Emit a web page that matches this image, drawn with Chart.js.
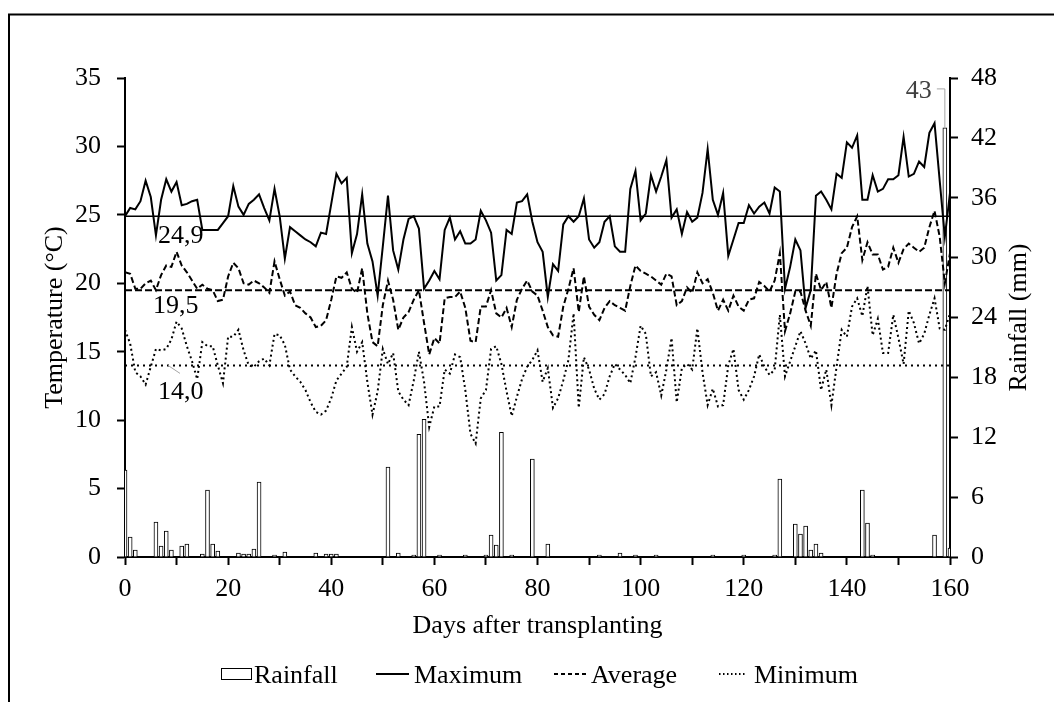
<!DOCTYPE html>
<html>
<head>
<meta charset="utf-8">
<script src="https://cdn.jsdelivr.net/npm/chart.js@4.4.1/dist/chart.umd.min.js"></script>
<style>
  html, body { margin: 0; padding: 0; background: #fff; }
  canvas { display: block; }
</style>
</head>
<body>
<canvas id="climateChart" width="1054" height="702"></canvas>
<script>
// Daily weather after transplanting
const maxTemp = [
  24.9, 25.5, 25.4, 26.0, 27.5, 26.3, 23.5, 26.1, 27.6, 26.7,
  27.4, 25.7, 25.8, 26.0, 26.1, 23.9, 23.9, 23.9, 23.9, 24.4,
  24.9, 27.1, 25.6, 25.0, 25.8, 26.1, 26.5, 25.5, 24.6, 26.9,
  24.9, 21.8, 24.1, 23.8, 23.5, 23.2, 23.0, 22.7, 23.7, 23.6,
  25.8, 28.0, 27.3, 27.7, 22.2, 23.6, 26.5, 22.9, 21.6, 19.1,
  22.7, 26.4, 22.4, 21.0, 23.2, 24.7, 24.9, 24.0, 19.6, 20.2,
  20.9, 20.3, 23.9, 24.8, 23.2, 23.8, 22.9, 22.9, 23.2, 25.3,
  24.6, 23.7, 20.2, 20.6, 23.9, 23.6, 25.9, 26.0, 26.5, 24.5,
  23.0, 22.3, 19.0, 21.4, 20.9, 24.3, 24.9, 24.5, 24.9, 26.2,
  23.2, 22.6, 23.0, 24.5, 24.9, 22.7, 22.3, 22.3, 26.9, 28.2,
  24.6, 25.1, 27.9, 26.7, 27.8, 29.0, 24.8, 25.4, 23.6, 25.2,
  24.5, 24.8, 26.6, 29.8, 26.1, 25.0, 26.6, 22.0, 23.2, 24.4,
  24.4, 25.7, 25.1, 25.6, 25.9, 25.1, 27.0, 26.7, 19.6, 21.2,
  23.2, 22.4, 18.2, 19.5, 26.4, 26.7, 26.1, 25.4, 28.0, 27.7,
  30.3, 29.9, 30.8, 26.1, 26.1, 27.9, 26.7, 26.9, 27.6, 27.6,
  27.9, 30.7, 27.8, 28.0, 28.9, 28.5, 31.0, 31.7, 27.5, 23.4,
  26.6
];

const avgTemp = [
  20.8, 20.7, 19.6, 19.6, 20.0, 20.2, 19.5, 20.6, 21.3, 21.2,
  22.3, 21.3, 20.8, 20.2, 19.6, 19.9, 19.6, 19.5, 18.7, 18.8,
  20.5, 21.5, 21.1, 20.0, 19.9, 20.2, 20.0, 19.7, 19.3, 21.6,
  20.3, 19.1, 19.4, 18.4, 18.2, 17.8, 17.5, 16.8, 16.9, 17.3,
  18.8, 20.5, 20.4, 20.8, 19.6, 19.3, 21.1, 17.8, 15.7, 15.4,
  18.4, 20.2, 18.8, 16.6, 17.5, 17.9, 18.8, 19.5, 17.1, 14.8,
  16.0, 15.6, 18.9, 19.0, 19.0, 19.4, 18.2, 15.8, 15.7, 18.3,
  18.3, 19.5, 17.8, 17.5, 18.2, 16.8, 18.8, 19.6, 20.2, 19.4,
  19.1, 18.0, 16.8, 16.2, 16.1, 18.3, 19.6, 21.1, 17.9, 20.5,
  18.3, 17.7, 17.3, 18.2, 18.7, 18.4, 18.2, 18.0, 19.8, 21.3,
  20.9, 20.7, 20.5, 20.2, 19.9, 20.7, 20.5, 18.4, 18.7, 19.7,
  19.3, 20.8, 20.0, 20.3, 19.3, 18.0, 18.8, 18.0, 19.1, 18.3,
  18.0, 18.8, 18.9, 20.1, 19.8, 19.4, 20.2, 22.2, 16.5, 17.8,
  19.4, 19.4, 18.0, 16.9, 20.7, 19.5, 20.1, 18.2, 20.7, 22.2,
  22.6, 24.1, 24.9, 21.7, 23.0, 22.1, 22.1, 21.0, 21.2, 22.6,
  21.5, 22.5, 22.9, 22.6, 22.3, 22.6, 24.1, 25.3, 23.4, 20.0,
  22.2
];

const minTemp = [
  16.6, 15.6, 13.5, 13.2, 12.6, 13.9, 15.2, 15.1, 15.2, 15.9,
  17.2, 16.7, 15.4, 14.3, 13.0, 15.7, 15.4, 15.4, 14.0, 12.7,
  16.1, 16.1, 16.6, 15.1, 14.0, 13.9, 14.3, 14.5, 14.0, 16.3,
  16.2, 15.5, 13.7, 13.2, 12.8, 12.2, 11.3, 10.6, 10.4, 10.7,
  11.6, 12.9, 13.4, 13.9, 16.8, 15.0, 15.7, 12.8, 10.4, 12.1,
  15.2, 14.1, 14.9, 12.1, 11.5, 11.1, 12.9, 15.0, 12.8, 9.5,
  11.0, 11.0, 13.7, 13.4, 14.8, 14.6, 12.2, 9.0, 8.3, 11.6,
  12.2, 15.2, 15.4, 14.1, 12.1, 10.3, 11.7, 13.0, 13.9, 14.4,
  15.1, 12.8, 13.8, 10.9, 11.6, 12.9, 14.4, 17.8, 10.9, 14.6,
  13.7, 12.3, 11.5, 11.9, 13.2, 14.1, 13.7, 13.3, 12.7, 14.6,
  16.9, 16.3, 13.2, 13.5, 11.8, 13.7, 16.0, 11.3, 13.8, 14.1,
  13.7, 16.7, 13.5, 11.1, 12.3, 11.0, 11.1, 14.0, 15.2, 12.2,
  11.5, 12.2, 13.2, 14.8, 13.9, 13.3, 13.7, 17.7, 13.2, 14.3,
  15.4, 16.5, 15.6, 14.5, 15.1, 12.2, 13.7, 11.1, 13.9, 16.6,
  16.1, 18.3, 18.9, 17.6, 19.8, 16.2, 17.4, 14.9, 14.9, 17.7,
  16.0, 14.1, 18.0, 17.1, 15.6, 16.3, 17.7, 18.9, 16.7, 16.6,
  17.8
];

const rainfall = [
  8.7, 2.0, 0.7, 0, 0, 0, 3.5, 1.1, 2.6, 0.7,
  0, 1.1, 1.3, 0, 0, 0.3, 6.7, 1.3, 0.6, 0,
  0, 0, 0.4, 0.3, 0.3, 0.8, 7.5, 0, 0, 0.2,
  0, 0.5, 0, 0, 0, 0, 0, 0.4, 0, 0.3,
  0.3, 0.3, 0, 0, 0, 0, 0, 0, 0, 0,
  0, 9.0, 0, 0.4, 0, 0, 0.2, 12.3, 13.8, 0,
  0, 0.2, 0, 0, 0, 0, 0.2, 0, 0, 0,
  0.2, 2.2, 1.2, 12.5, 0, 0.2, 0, 0, 0, 9.8,
  0, 0, 1.3, 0, 0, 0, 0, 0, 0, 0,
  0, 0, 0.2, 0, 0, 0, 0.4, 0, 0, 0.2,
  0, 0, 0, 0.2, 0, 0, 0, 0, 0, 0,
  0, 0, 0, 0, 0.2, 0, 0, 0, 0, 0,
  0.2, 0, 0, 0, 0, 0, 0.2, 7.8, 0, 0,
  3.3, 2.3, 3.1, 0.7, 1.3, 0.4, 0, 0, 0, 0,
  0, 0, 0, 6.7, 3.4, 0.2, 0, 0, 0, 0,
  0, 0, 0, 0, 0, 0, 0, 2.2, 0, 43,
  0.9
];

// day index = position in the arrays
const days = maxTemp.map((_, i) => i);

// season means shown as flat lines
const meanMax = 24.9;
const meanAvg = 19.5;
const meanMin = 14.0;

const SERIF = "'Liberation Serif', 'Times New Roman', serif";
Chart.defaults.font.family = SERIF;
Chart.defaults.font.size = 26;
Chart.defaults.color = '#000';

const toPoints = arr => arr.map((v, i) => ({ x: days[i], y: v }));
const flatLine = v => [{ x: days[0], y: v }, { x: days[days.length - 1], y: v }];
const commaNum = v => v.toFixed(1).replace('.', ',');

// white page, outer frame, legend and the small annotations
const decorPlugin = {
  id: 'decor',
  beforeDraw(chart) {
    const { ctx, width, height } = chart;
    ctx.save();
    ctx.fillStyle = '#fff';
    ctx.fillRect(0, 0, width, height);
    ctx.strokeStyle = '#000';
    ctx.lineWidth = 2;
    ctx.beginPath();
    ctx.moveTo(9, height);
    ctx.lineTo(9, 14.5);
    ctx.lineTo(width, 14.5);
    ctx.stroke();
    ctx.restore();
  },
  afterDraw(chart) {
    const { ctx, chartArea } = chart;
    const { x, y, y1 } = chart.scales;
    ctx.save();
    ctx.font = `26px ${SERIF}`;
    ctx.fillStyle = '#000';
    ctx.textBaseline = 'middle';
    ctx.textAlign = 'left';

    // mean value labels under each flat line
    ctx.fillText(commaNum(meanMax), chartArea.left + 33, y.getPixelForValue(meanMax) + 20);
    ctx.fillText(commaNum(meanAvg), chartArea.left + 28, y.getPixelForValue(meanAvg) + 16);
    ctx.fillText(commaNum(meanMin), chartArea.left + 33, y.getPixelForValue(meanMin) + 27);
    ctx.strokeStyle = '#a6a6a6';
    ctx.lineWidth = 1;
    ctx.beginPath();
    ctx.moveTo(chartArea.left + 43, y.getPixelForValue(meanMin));
    ctx.lineTo(chartArea.left + 55, y.getPixelForValue(meanMin) + 8);
    ctx.stroke();

    // label for the tallest rain bar
    const peak = Math.max(...rainfall);
    const bx = x.getPixelForValue(days[rainfall.indexOf(peak)]);
    const by = y1.getPixelForValue(peak);
    ctx.beginPath();
    ctx.moveTo(bx - 8, by - 39);
    ctx.lineTo(bx, by - 39);
    ctx.lineTo(bx, by);
    ctx.stroke();
    ctx.fillStyle = '#404040';
    ctx.textAlign = 'right';
    ctx.fillText(String(peak), bx - 13, by - 37);

    // right axis title reads bottom-to-top like the left one
    ctx.fillStyle = '#000';
    ctx.save();
    ctx.translate(1019, (chartArea.top + chartArea.bottom) / 2);
    ctx.rotate(-Math.PI / 2);
    ctx.textAlign = 'center';
    ctx.fillText('Rainfall (mm)', 0, 0);
    ctx.restore();

    // legend row
    const ly = 674;
    ctx.textAlign = 'left';
    ctx.lineWidth = 1;
    ctx.strokeStyle = '#000';
    ctx.fillStyle = '#fff';
    ctx.fillRect(221.5, 668.5, 30, 11);
    ctx.strokeRect(221.5, 668.5, 30, 11);
    ctx.lineWidth = 2;
    const sample = (x0, x1, dash) => {
      ctx.setLineDash(dash);
      ctx.beginPath();
      ctx.moveTo(x0, ly);
      ctx.lineTo(x1, ly);
      ctx.stroke();
    };
    sample(376, 409, []);
    sample(554, 588, [4, 3]);
    sample(719, 747, [1.5, 2.5]);
    ctx.setLineDash([]);
    ctx.fillStyle = '#000';
    ctx.fillText('Rainfall', 254, ly + 2);
    ctx.fillText('Maximum', 414, ly + 2);
    ctx.fillText('Average', 591, ly + 2);
    ctx.fillText('Minimum', 754, ly + 2);
    ctx.restore();
  }
};

const axisGrid = { drawOnChartArea: false, drawTicks: true, tickLength: 8, tickWidth: 2, tickColor: '#000' };
const axisBorder = { display: true, color: '#000', width: 2 };

const lineStyle = (data, dash, width) => ({
  type: 'line',
  data: data,
  yAxisID: 'y',
  borderColor: '#000',
  borderWidth: width,
  borderDash: dash,
  pointRadius: 0,
  tension: 0,
  fill: false,
  order: 1
});

new Chart(document.getElementById('climateChart'), {
  type: 'bar',
  data: {
    datasets: [
      lineStyle(toPoints(maxTemp), [], 2),
      lineStyle(toPoints(avgTemp), [6, 3], 2),
      lineStyle(toPoints(minTemp), [2, 3], 2),
      lineStyle(flatLine(meanMax), [], 1.5),
      lineStyle(flatLine(meanAvg), [7, 3], 2),
      lineStyle(flatLine(meanMin), [2, 4], 2),
      {
        type: 'bar',
        label: 'Rainfall',
        data: toPoints(rainfall),
        yAxisID: 'y1',
        backgroundColor: '#fff',
        borderColor: '#000',
        borderWidth: 1,
        borderSkipped: 'start',
        barThickness: 4,
        order: 5
      }
    ]
  },
  options: {
    responsive: false,
    animation: false,
    events: [],
    layout: { padding: { top: 78, right: 0, bottom: 0, left: 0 } },
    plugins: { legend: { display: false }, tooltip: { enabled: false } },
    scales: {
      x: {
        type: 'linear',
        min: 0,
        max: 160,
        offset: false,
        grid: Object.assign({ offset: false }, axisGrid),
        border: axisBorder,
        ticks: {
          stepSize: 10,
          autoSkip: false,
          maxRotation: 0,
          padding: 9,
          callback: v => (v % 20 === 0 ? String(v) : '')
        },
        title: { display: true, text: 'Days after transplanting', padding: { top: 0, bottom: 60 } },
        afterFit: s => { s.height = 145; }
      },
      y: {
        position: 'left',
        min: 0,
        max: 35,
        grid: axisGrid,
        border: axisBorder,
        ticks: { stepSize: 5, padding: 16 },
        title: { display: true, text: 'Temperature (°C)', padding: { top: 40, bottom: 0 } },
        afterFit: s => { s.width = 125; }
      },
      y1: {
        position: 'right',
        min: 0,
        max: 48,
        grid: axisGrid,
        border: axisBorder,
        ticks: { stepSize: 6, padding: 13 },
        afterFit: s => { s.width = 104; }
      }
    }
  },
  plugins: [decorPlugin]
});
</script>
</body>
</html>
